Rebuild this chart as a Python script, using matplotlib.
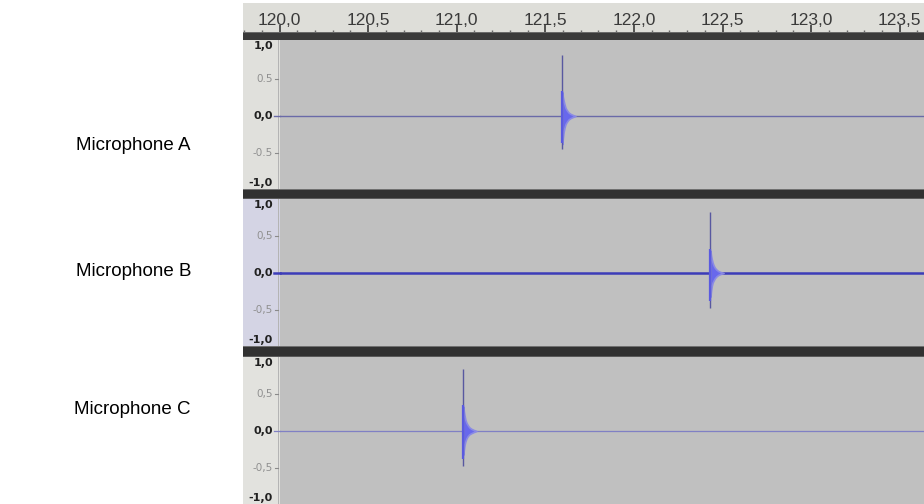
import matplotlib
matplotlib.use("Agg")
import matplotlib.pyplot as plt
from matplotlib.patches import Rectangle
from matplotlib.lines import Line2D
from matplotlib.transforms import blended_transform_factory
import numpy as np

# ---- data -------------------------------------------------------------
track_names = ["Microphone A", "Microphone B", "Microphone C"]
onset_times = [121.594, 122.430, 121.035]          # seconds
spike_peak = [0.82, 0.83, 0.84]
spike_trough = [-0.45, -0.47, -0.47]

# decay envelope after each spike: time offsets (s) and max / min amplitude
decay_offsets = [0.002, 0.005, 0.009, 0.014, 0.020, 0.027, 0.036, 0.047, 0.060, 0.076]
decay_max = [
    [0.32, 0.26, 0.21, 0.16, 0.11, 0.08, 0.05, 0.03, 0.015, 0.0],
    [0.30, 0.24, 0.19, 0.14, 0.10, 0.07, 0.045, 0.025, 0.012, 0.0],
    [0.33, 0.27, 0.21, 0.15, 0.11, 0.08, 0.05, 0.03, 0.015, 0.0],
]
decay_min = [
    [-0.38, -0.30, -0.22, -0.16, -0.11, -0.08, -0.05, -0.03, -0.015, 0.0],
    [-0.32, -0.25, -0.18, -0.13, -0.10, -0.07, -0.045, -0.025, -0.012, 0.0],
    [-0.32, -0.26, -0.19, -0.14, -0.10, -0.07, -0.045, -0.03, -0.015, 0.0],
]

ruler_major = [120.0, 120.5, 121.0, 121.5, 122.0, 122.5, 123.0, 123.5]
ruler_labels = ["120,0", "120,5", "121,0", "121,5", "122,0", "122,5", "123,0", "123,5"]
amp_ticks = [1.0, 0.5, 0.0, -0.5, -1.0]
amp_labels = [
    ["1,0", "0.5", "0,0", "-0.5", "-1,0"],
    ["1,0", "0,5", "0,0", "-0,5", "-1,0"],
    ["1,0", "0,5", "0,0", "-0,5", "-1,0"],
]

# ---- layout (pixel geometry of a 924x504 canvas) -----------------------
W, H = 924, 504
fig = plt.figure(figsize=(W / 100, H / 100), dpi=100, facecolor="white")


def fx(px):
    return px / W


def fy(py):
    return 1 - py / H


def add_box(x0, y0, x1, y1, color, z=0):
    fig.add_artist(Rectangle((fx(x0), fy(y1)), fx(x1) - fx(x0), fy(y0) - fy(y1),
                             transform=fig.transFigure, facecolor=color,
                             edgecolor="none", zorder=z))


left_px, col_px, right_px = 243, 280, 924
t_px0 = 279.5           # pixel of 120.0 s
px_per_s = 177.2
t_left = 120 + (left_px - t_px0) / px_per_s
t_col = 120 + (col_px - t_px0) / px_per_s
t_right = 120 + (right_px - t_px0) / px_per_s

# ruler
ruler_top, ruler_bot = 3, 32
rax = fig.add_axes([fx(left_px), fy(ruler_bot), fx(right_px) - fx(left_px),
                    fy(ruler_top) - fy(ruler_bot)])
rax.set_facecolor("#deded9")
rax.set_xlim(t_left, t_right)
rax.set_ylim(0, 1)
for s in rax.spines.values():
    s.set_visible(False)
rax.set_yticks([])
rax.set_xticks(ruler_major)
rax.set_xticklabels([])
rax.set_xticks(np.round(np.arange(119.8, 123.65, 0.1), 1), minor=True)
rax.tick_params(axis="x", which="major", direction="in", length=5, width=1.2,
                color="#3a3a3a")
rax.tick_params(axis="x", which="minor", direction="in", length=1.8, width=1.0,
                color="#6a6a6a")
for t, lab in zip(ruler_major, ruler_labels):
    rax.text(t, 0.40, lab, ha="center", va="center", fontsize=12.5,
             family="Liberation Sans", color="#3a3a3a")

# dark bars between ruler and tracks
add_box(left_px, 32, right_px, 40, "#3a3a3a", 5)
add_box(left_px, 32, right_px, 33, "#6a6a6a", 6)
add_box(left_px, 189, right_px, 199, "#313131", 5)
add_box(left_px, 189, right_px, 190, "#707070", 6)
add_box(left_px, 198, right_px, 199, "#5a5a5a", 6)
add_box(left_px, 346, right_px, 357, "#313131", 5)
add_box(left_px, 346, right_px, 347, "#707070", 6)
add_box(left_px, 356, right_px, 357, "#5a5a5a", 6)

track_rows = [(40, 189), (199, 346), (357, 504)]
zero_rows = [116, 273, 431]
column_colors = ["#e0e0dc", "#d4d4e4", "#e2e2de"]
zero_colors = ["#6a6aa8", "#3c3cb8", "#8080c4"]
zero_widths = [1.0, 1.8, 0.9]
track_y = [145, 272, 410]

for i, (top, bot) in enumerate(track_rows):
    # label column
    add_box(left_px, top, col_px, bot, column_colors[i], 1)
    add_box(col_px - 2, top, col_px - 1, bot, "#b4b4b4", 2)

    ax = fig.add_axes([fx(col_px), fy(bot), fx(right_px) - fx(col_px), fy(top) - fy(bot)])
    ax.set_facecolor("#c0c0c0")
    ax.set_xlim(t_col, t_right)
    zero = zero_rows[i]
    ax.set_ylim(-(bot - zero) / 74.0, (zero - top) / 74.0)
    ax.set_xticks([])
    ax.set_yticks([])
    for s in ax.spines.values():
        s.set_visible(False)

    # zero line of the waveform
    ax.axhline(0, color=zero_colors[i], lw=zero_widths[i], zorder=2)

    # decaying burst after the spike
    t0 = onset_times[i]
    offs = np.array([0.0] + decay_offsets)
    mx = np.array([0.0] + decay_max[i])
    mn = np.array([0.0] + decay_min[i])
    ax.fill_between(t0 + offs, mn, mx, color="#6868ec", lw=1.2,
                    edgecolor="#8a8ae4", zorder=3)
    # the impulse itself
    ax.vlines(t0, spike_trough[i], spike_peak[i], color="#5858a0", lw=1.0, zorder=4)
    ax.vlines(t0 + 0.0015, spike_trough[i] * 0.8, decay_max[i][0] + 0.02,
              color="#5a5ae0", lw=1.6, zorder=4)

    # amplitude scale in the label column
    tr = blended_transform_factory(fig.transFigure, ax.transData)
    yl = ax.get_ylim()
    for v, lab in zip(amp_ticks, amp_labels[i]):
        major = v in (1.0, 0.0, -1.0)
        yv = v
        va = "center"
        if v == 1.0:
            yv, va = yl[1] - 0.01, "top"
        elif v == -1.0:
            yv, va = yl[0] + 0.01, "bottom"
        fig.text(fx(273), yv, lab, transform=tr, ha="right", va=va,
                 fontsize=8 if major else 7.5,
                 fontweight="bold" if major else "normal",
                 family="DejaVu Sans",
                 color="#202020" if major else "#909090", zorder=7)
        if v in (0.5, -0.5):
            fig.add_artist(Line2D([fx(275), fx(278)], [v, v], transform=tr,
                                  color="#8a8a8a", lw=0.8, zorder=7))
        elif v == 0.0:
            fig.add_artist(Line2D([fx(274), fx(280)], [0, 0], transform=tr,
                                  color=zero_colors[i], lw=zero_widths[i], zorder=7))

    # track name on the white margin
    fig.text(fx(191), fy(track_y[i]), track_names[i], ha="right", va="center",
             fontsize=13.5, family="Liberation Sans", color="black")

fig.savefig("out.png", dpi=100, facecolor="white")
